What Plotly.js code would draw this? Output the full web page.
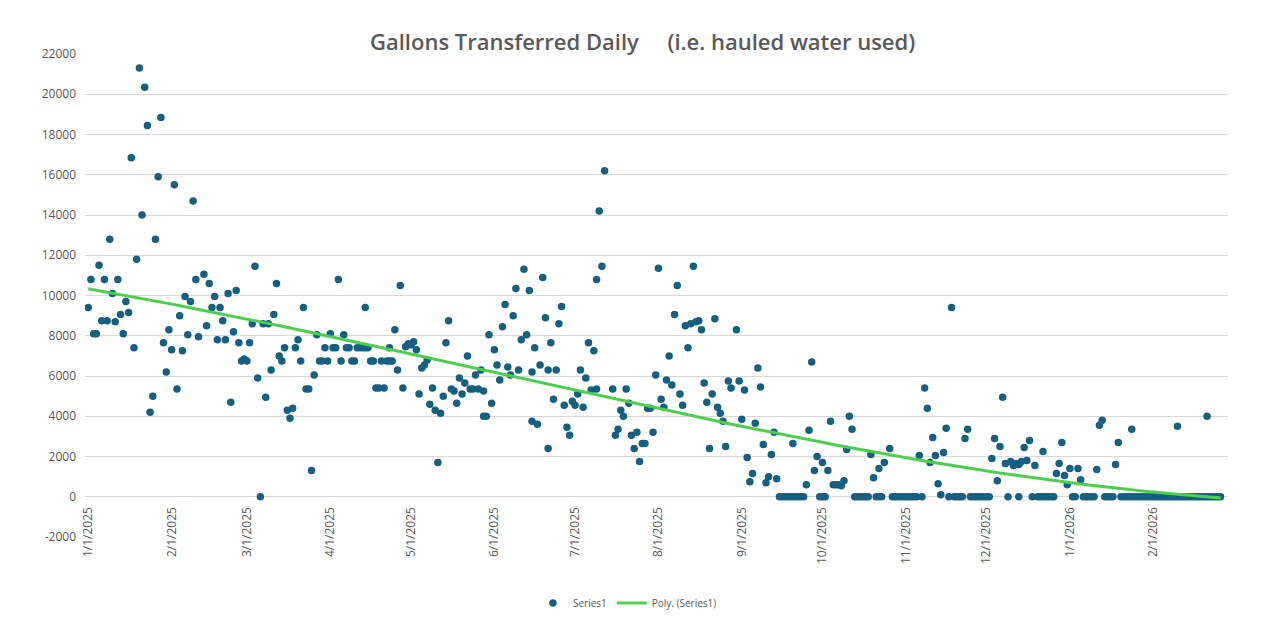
<!DOCTYPE html>
<html>
<head>
<meta charset="utf-8">
<script src="https://cdn.plot.ly/plotly-3.0.1.min.js"></script>
<style>
  html, body { margin: 0; padding: 0; background: #ffffff; }
  #chart { width: 1265px; height: 620px; }
</style>
</head>
<body>
<div id="chart"></div>
<script>
// Each entry: [day index counted from 1/1/2025, gallons transferred that day]
const jan25 = [[0,9400],[1,10800],[2,8100],[3,8100],[4,11500],[5,8750],[6,10800],[7,8750],[8,12800],[9,10100],[10,8700],[11,10800],[12,9050],[13,8100],[14,9700],[15,9150],[16,16850],[17,7400],[18,11800],[19,21300],[20,14000],[21,20350],[22,18450],[23,4200],[24,5000],[25,12800],[26,15900],[27,18850],[28,7650],[29,6200],[30,8300]];
const feb25 = [[31,7300],[32,15500],[33,5350],[34,9000],[35,7250],[36,9950],[37,8050],[38,9700],[39,14700],[40,10800],[41,7950],[43,11050],[44,8500],[45,10600],[46,9400],[47,9950],[48,7800],[49,9400],[50,8750],[51,7800],[52,10100],[53,4700],[54,8200],[55,10250],[56,7650],[57,6750],[58,6850]];
const mar25 = [[59,6750],[60,7650],[61,8600],[62,11450],[63,5900],[64,0],[65,8600],[66,4950],[67,8600],[68,6300],[69,9050],[70,10600],[71,7000],[72,6750],[73,7400],[74,4300],[75,3900],[76,4400],[77,7400],[78,7800],[79,6750],[80,9400],[81,5350],[82,5350],[83,1300],[84,6050],[85,8050],[86,6750],[87,6750],[88,7400],[89,6750]];
const apr25 = [[90,8100],[91,7400],[92,7400],[93,10800],[94,6750],[95,8050],[96,7400],[97,7400],[98,6750],[99,6750],[100,7400],[101,7400],[102,7400],[103,7400],[103,9400],[104,7400],[105,6750],[106,6750],[107,5400],[108,5400],[109,6750],[110,5400],[111,6750],[112,6750],[112,7400],[113,6750],[114,8300],[115,6300],[116,10500],[117,5400],[118,7450],[119,7600]];
const may25 = [[120,7550],[121,7700],[122,7300],[123,5100],[124,6400],[125,6550],[126,6800],[127,4600],[128,5400],[129,4300],[130,1700],[131,4150],[132,5000],[133,7650],[134,8750],[135,5350],[136,5250],[137,4650],[138,5900],[139,5100],[140,5650],[141,7000],[142,5350],[143,5350],[144,6050],[145,5350],[146,6300],[147,5250],[147,4000],[148,4000],[149,8050],[150,4650]];
const jun25 = [[151,7300],[152,6550],[153,5800],[154,8450],[155,9550],[156,6450],[157,6050],[158,9000],[159,10350],[160,6300],[161,7800],[162,11300],[163,8050],[164,10250],[165,3750],[165,6200],[166,7400],[167,3600],[168,6550],[169,10900],[170,8900],[171,6300],[171,2400],[172,7650],[173,4850],[174,6300],[175,8600],[176,9450],[177,4550],[178,3450],[179,3050],[180,4750]];
const jul25 = [[181,4550],[182,5100],[183,6300],[184,4450],[185,5900],[186,7650],[187,5300],[188,7250],[189,10800],[189,5350],[190,14200],[191,11450],[192,16200],[195,5350],[196,3050],[197,3350],[198,4300],[199,4000],[200,5350],[201,4650],[202,3050],[203,2400],[204,3200],[205,1750],[206,2650],[207,2650],[208,4400],[209,4400],[210,3200],[211,6050]];
const aug25 = [[212,11350],[213,4850],[214,4450],[215,5800],[216,7000],[217,5550],[218,9050],[219,10500],[220,5100],[221,4550],[222,8500],[223,7400],[224,8600],[225,11450],[226,8700],[227,8750],[228,8300],[229,5650],[230,4700],[231,2400],[232,5100],[233,8850],[234,4450],[235,4150],[236,3750],[237,2500],[238,5750],[239,5400],[241,8300],[242,5750]];
const sep25 = [[243,3850],[244,5300],[245,1950],[246,750],[247,1150],[248,3650],[249,6400],[250,5450],[251,2600],[252,700],[253,1000],[254,2100],[255,3200],[256,900],[257,0],[258,0],[259,0],[260,0],[261,0],[262,0],[262,2650],[263,0],[264,0],[265,0],[266,0],[267,600],[268,3300],[269,6700],[270,1300],[271,2000],[272,0]];
const oct25 = [[273,1700],[273,0],[274,0],[275,1300],[276,3750],[277,600],[278,600],[279,600],[280,550],[281,800],[282,2350],[283,4000],[284,3350],[285,0],[286,0],[287,0],[288,0],[289,0],[290,0],[291,2100],[292,950],[293,0],[294,1400],[294,0],[295,0],[296,1700],[298,2400],[299,0],[300,0],[301,0],[302,0],[303,0]];
const nov25 = [[304,0],[305,0],[306,0],[307,0],[308,0],[309,2050],[310,0],[311,5400],[312,4400],[313,1700],[314,2950],[315,2050],[316,650],[317,100],[318,2200],[319,3400],[320,0],[321,9400],[322,0],[323,0],[324,0],[325,0],[326,2900],[327,3350],[328,0],[329,0],[330,0],[331,0],[332,0],[333,0]];
const dec25 = [[334,0],[335,0],[336,1900],[337,2900],[338,800],[339,2500],[340,4950],[341,1650],[342,0],[343,1750],[344,1550],[345,1650],[346,0],[346,1600],[347,1750],[348,2450],[349,1800],[350,2800],[351,0],[352,1550],[353,0],[354,0],[355,2250],[355,0],[356,0],[357,0],[358,0],[359,0],[360,1150],[361,1650],[362,2700],[363,1050],[364,600]];
const jan26 = [[365,1400],[366,0],[367,0],[368,1400],[369,850],[370,0],[371,0],[372,0],[373,0],[374,0],[375,1350],[376,3550],[377,3800],[378,0],[379,0],[380,0],[381,0],[382,1600],[383,2700],[384,0],[385,0],[386,0],[387,0],[388,0],[388,3350],[389,0],[390,0],[391,0],[392,0],[393,0],[394,0],[395,0]];
const feb26 = [[396,0],[397,0],[398,0],[399,0],[400,0],[401,0],[402,0],[403,0],[404,0],[405,0],[405,3500],[406,0],[407,0],[408,0],[409,0],[410,0],[411,0],[412,0],[413,0],[414,0],[415,0],[416,0],[416,4000],[417,0],[418,0],[419,0],[420,0],[421,0]];

const monthTickDates = ['2025-01-01','2025-02-01','2025-03-01','2025-04-01','2025-05-01','2025-06-01','2025-07-01','2025-08-01','2025-09-01','2025-10-01','2025-11-01','2025-12-01','2026-01-01','2026-02-01'];
const monthTickLabels = ['1/1/2025','2/1/2025','3/1/2025','4/1/2025','5/1/2025','6/1/2025','7/1/2025','8/1/2025','9/1/2025','10/1/2025','11/1/2025','12/1/2025','1/1/2026','2/1/2026'];
const yTickValues = [-2000,0,2000,4000,6000,8000,10000,12000,14000,16000,18000,20000,22000];
const seriesName = 'Series1';
const trendName = 'Poly. (Series1)';
const trendOrder = 3;

const points = [jan25,feb25,mar25,apr25,may25,jun25,jul25,aug25,sep25,oct25,nov25,dec25,jan26,feb26].flat();
const base = Date.UTC(2025,0,1);
const toDate = d => new Date(base + d*86400000).toISOString().slice(0,19).replace('T',' ');

const dayIdx = points.map(p => p[0]);
const vals = points.map(p => p[1]);

// least squares polynomial trendline (like Excel "Poly." trendline)
function polyfit(xs, ys, order) {
  const n = order + 1;
  const A = Array.from({length:n}, () => new Array(n+1).fill(0));
  for (let k = 0; k < xs.length; k++) {
    const pw = [];
    let v = 1;
    for (let i = 0; i < 2*n; i++) { pw.push(v); v *= xs[k]; }
    for (let i = 0; i < n; i++) {
      for (let j = 0; j < n; j++) A[i][j] += pw[i+j];
      A[i][n] += ys[k]*pw[i];
    }
  }
  for (let c = 0; c < n; c++) {
    let piv = c;
    for (let r = c+1; r < n; r++) if (Math.abs(A[r][c]) > Math.abs(A[piv][c])) piv = r;
    [A[c], A[piv]] = [A[piv], A[c]];
    for (let r = 0; r < n; r++) {
      if (r === c) continue;
      const f = A[r][c] / A[c][c];
      for (let j = c; j <= n; j++) A[r][j] -= f*A[c][j];
    }
  }
  return A.map((row, i) => row[n] / row[i]);
}
const scale = 400;
const coef = polyfit(dayIdx.map(d => d/scale), vals, trendOrder);
const dMin = Math.min(...dayIdx), dMax = Math.max(...dayIdx);
const tx = [], ty = [];
for (let i = 0; i <= 200; i++) {
  const d = dMin + (dMax - dMin) * i / 200;
  const t = d / scale;
  let v = 0;
  for (let k = coef.length - 1; k >= 0; k--) v = v*t + coef[k];
  tx.push(toDate(d)); ty.push(v);
}

const traces = [
  {
    type: 'scatter', mode: 'markers', name: seriesName,
    x: dayIdx.map(toDate), y: vals,
    marker: {color: '#156082', size: 7.5, line: {width: 0}},
    hoverinfo: 'x+y'
  },
  {
    type: 'scatter', mode: 'lines', name: trendName,
    x: tx, y: ty,
    line: {color: '#4ccf4c', width: 3},
    hoverinfo: 'skip'
  }
];

const layout = {
  width: 1265, height: 620,
  paper_bgcolor: '#ffffff', plot_bgcolor: '#ffffff',
  margin: {l: 85, r: 37, t: 54, b: 83, autoexpand: false},
  font: {family: '"Open Sans", "Liberation Sans", sans-serif', color: '#595959'},
  title: {
    text: 'Gallons Transferred Daily&nbsp;&nbsp;&nbsp;&nbsp;&nbsp;(i.e. hauled water used)',
    x: 0.508, xref: 'container', xanchor: 'center',
    y: 1 - 42/620, yref: 'container', yanchor: 'middle',
    font: {size: 22, color: '#595959', weight: 600}
  },
  xaxis: {
    type: 'date', automargin: false,
    range: ['2024-12-30 19:00', '2026-02-28 19:00'],
    anchor: 'free', position: 2000/24000,
    tickmode: 'array', tickvals: monthTickDates, ticktext: monthTickLabels,
    tickangle: -90, ticks: '', showgrid: false, zeroline: false, showline: false,
    tickfont: {size: 12, color: '#595959'},
    ticklabelstandoff: 7
  },
  yaxis: {
    automargin: false,
    range: [-2000, 22000],
    tickmode: 'array', tickvals: yTickValues, ticktext: yTickValues.map(String),
    ticks: '', showgrid: true, gridcolor: '#d9d9d9', gridwidth: 1,
    zeroline: false, showline: false,
    tickfont: {size: 12, color: '#595959'},
    ticklabelstandoff: 8
  },
  legend: {
    orientation: 'h', xref: 'container', yref: 'container',
    x: 0.496, xanchor: 'center', y: 1 - 603/620, yanchor: 'middle',
    font: {size: 10, color: '#595959'}, bgcolor: 'rgba(0,0,0,0)'
  },
  showlegend: true
};

Plotly.newPlot('chart', traces, layout, {displayModeBar: false, staticPlot: true});
</script>
</body>
</html>
